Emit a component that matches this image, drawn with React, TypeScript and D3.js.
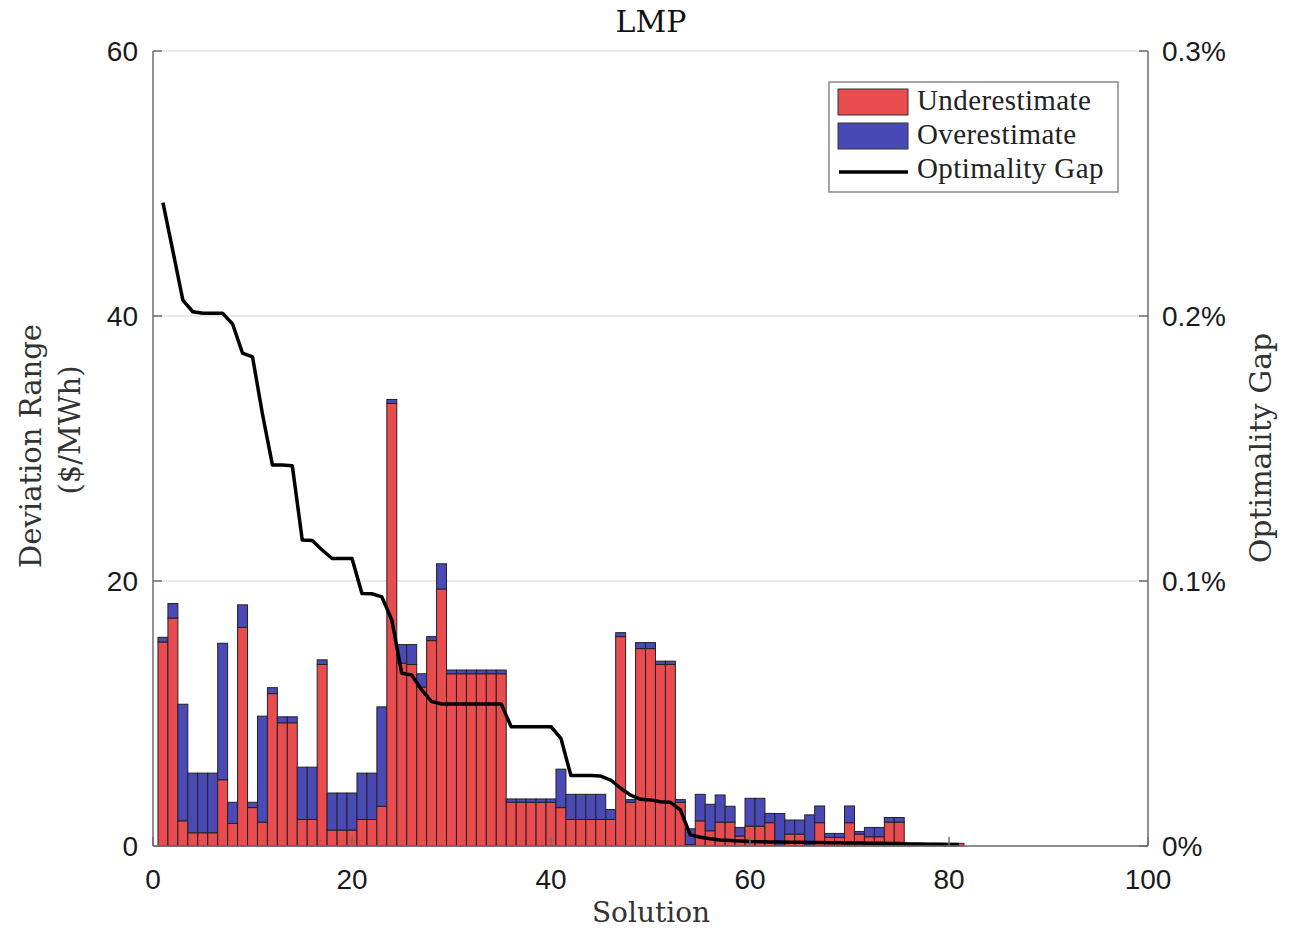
import React from "react";
import * as d3 from "d3";

// solution index 1..81
const solutions = d3.range(1, 82);

// red part (underestimate), $/MWh
const underestimate = [
  15.4, 17.2, 1.9, 1.0, 1.0, 1.0, 5.0, 1.7, 16.5, 2.9,
  1.8, 11.5, 9.3, 9.3, 2.0, 2.0, 13.7, 1.2, 1.2, 1.2,
  2.0, 2.0, 3.0, 33.4, 13.8, 13.7, 12.0, 15.5, 19.4, 13.0,
  13.0, 13.0, 13.0, 13.0, 13.0, 3.3, 3.3, 3.3, 3.3, 3.3,
  2.9, 2.0, 2.0, 2.0, 2.0, 2.0, 15.8, 3.3, 14.9, 14.9,
  13.7, 13.7, 3.3, 0.1, 1.9, 1.15, 1.8, 1.8, 0.75, 1.5,
  1.5, 1.76, 0.05, 0.9, 0.9, 0.05, 1.76, 0.65, 0.65, 1.76,
  0.9, 0.7, 0.7, 1.8, 1.8, 0.2, 0.2, 0.2, 0.2, 0.2,
  0.2,
];

// blue part stacked on top (overestimate), $/MWh
const overestimate = [
  0.35, 1.1, 8.8, 4.5, 4.5, 4.5, 10.3, 1.6, 1.7, 0.4,
  8.0, 0.45, 0.45, 0.45, 3.95, 3.95, 0.35, 2.8, 2.8, 2.8,
  3.5, 3.5, 7.5, 0.3, 1.4, 1.5, 1.0, 0.3, 1.9, 0.28,
  0.28, 0.28, 0.28, 0.28, 0.28, 0.25, 0.25, 0.25, 0.25, 0.25,
  2.9, 1.9, 1.9, 1.9, 1.9, 0.75, 0.3, 0.2, 0.45, 0.45,
  0.25, 0.25, 0.2, 1.2, 2.0, 2.0, 2.05, 1.2, 0.65, 2.1,
  2.1, 0.7, 2.4, 1.06, 1.06, 2.3, 1.26, 0.3, 0.3, 1.26,
  0.2, 0.7, 0.7, 0.35, 0.35, 0, 0, 0, 0, 0,
  0,
];

// optimality gap in %
const optimalityGap = [
  0.2428, 0.2245, 0.206, 0.2016, 0.201, 0.201, 0.201, 0.197, 0.186, 0.1846,
  0.163, 0.1438, 0.1438, 0.1435, 0.1155, 0.1153, 0.1117, 0.1085, 0.1085, 0.1085,
  0.0953, 0.0952, 0.094, 0.0853, 0.0652, 0.0645, 0.0589, 0.0545, 0.0536, 0.0536,
  0.0536, 0.0536, 0.0536, 0.0536, 0.0536, 0.045, 0.045, 0.045, 0.045, 0.045,
  0.0406, 0.0266, 0.0266, 0.0266, 0.0264, 0.0249, 0.0218, 0.0192, 0.0176, 0.0174,
  0.0167, 0.0165, 0.0136, 0.0042, 0.0033, 0.0027, 0.0023, 0.0021, 0.0019, 0.0017,
  0.0016, 0.0015, 0.0015, 0.0014, 0.0014, 0.0013, 0.0013, 0.0012, 0.0012, 0.0011,
  0.0011, 0.001, 0.001, 0.0009, 0.0009, 0.0008, 0.0008, 0.0007, 0.0007, 0.0006,
  0.0006,
];

const xTicks = [0, 20, 40, 60, 80, 100];
const yTicks = [0, 20, 40, 60];
const gapTicks = [0, 0.1, 0.2, 0.3];

const legendItems = ["Underestimate", "Overestimate", "Optimality Gap"];

const W = 1304;
const H = 934;
const M = { left: 153, right: 1148, top: 51, bottom: 846 };
const RED = "#e84c4f";
const BLUE = "#4a4ab6";
const AXIS = "#6e6e6e";
const SANS = "'Liberation Sans', Arial, sans-serif";
const SERIF = "'DejaVu Serif', serif";
const LSERIF = "'Liberation Serif', serif";

export default function App() {
  const x = d3.scaleLinear().domain([0, 100]).range([M.left, M.right]);
  const y = d3.scaleLinear().domain([0, 60]).range([M.bottom, M.top]);
  const yGap = d3.scaleLinear().domain([0, 0.3]).range([M.bottom, M.top]);

  const gapLine = d3
    .line<number>()
    .x((d, i) => x(solutions[i]))
    .y((d) => yGap(d));

  const tick = 9;

  return (
    <svg
      width={W}
      height={H}
      style={{ position: "absolute", left: 0, top: 0, background: "#fff" }}
    >
      {/* grid */}
      {yTicks.map((t) => (
        <line
          key={"g" + t}
          x1={M.left}
          x2={M.right}
          y1={y(t)}
          y2={y(t)}
          stroke="#e3e3e3"
          strokeWidth={1.5}
        />
      ))}

      {/* stacked bars */}
      {solutions.map((s, i) => {
        const x0 = x(s - 0.5);
        const bw = x(s + 0.5) - x0;
        const u = underestimate[i];
        const o = overestimate[i];
        return (
          <g key={"b" + s}>
            <rect
              x={x0}
              y={y(u)}
              width={bw}
              height={y(0) - y(u)}
              fill={RED}
              stroke="#222"
              strokeWidth={1}
            />
            {o > 0 && (
              <rect
                x={x0}
                y={y(u + o)}
                width={bw}
                height={y(u) - y(u + o)}
                fill={BLUE}
                stroke="#222"
                strokeWidth={1}
              />
            )}
          </g>
        );
      })}

      {/* optimality gap line */}
      <path
        d={gapLine(optimalityGap) || ""}
        fill="none"
        stroke="#000"
        strokeWidth={3.5}
        strokeLinejoin="round"
      />

      {/* axes */}
      <line x1={M.left} x2={M.left} y1={M.top} y2={M.bottom} stroke={AXIS} strokeWidth={1.5} />
      <line x1={M.right} x2={M.right} y1={M.top} y2={M.bottom} stroke={AXIS} strokeWidth={1.5} />
      <line x1={M.left} x2={M.right} y1={M.bottom} y2={M.bottom} stroke={AXIS} strokeWidth={1.5} />

      {xTicks.map((t) => (
        <g key={"xt" + t}>
          <line x1={x(t)} x2={x(t)} y1={M.bottom} y2={M.bottom - tick} stroke={AXIS} strokeWidth={1.5} />
          <text
            x={x(t)}
            y={889}
            textAnchor="middle"
            fontFamily={SANS}
            fontSize={28}
            fill="#1a1a1a"
          >
            {t}
          </text>
        </g>
      ))}

      {yTicks.map((t) => (
        <g key={"yt" + t}>
          <line x1={M.left} x2={M.left + tick} y1={y(t)} y2={y(t)} stroke={AXIS} strokeWidth={1.5} />
          <text
            x={138}
            y={y(t)}
            dy="0.36em"
            textAnchor="end"
            fontFamily={SANS}
            fontSize={28}
            fill="#1a1a1a"
          >
            {t}
          </text>
        </g>
      ))}

      {gapTicks.map((t) => (
        <g key={"gt" + t}>
          <line x1={M.right} x2={M.right - tick} y1={yGap(t)} y2={yGap(t)} stroke={AXIS} strokeWidth={1.5} />
          <text
            x={1162}
            y={yGap(t)}
            dy="0.36em"
            textAnchor="start"
            fontFamily={SANS}
            fontSize={28}
            fill="#1a1a1a"
          >
            {t === 0 ? "0%" : t.toFixed(1) + "%"}
          </text>
        </g>
      ))}

      {/* titles */}
      <text x={651} y={32} textAnchor="middle" fontFamily={SERIF} fontSize={30} fill="#111">
        LMP
      </text>
      <text x={651} y={922} textAnchor="middle" fontFamily={SERIF} fontSize={28} fill="#333">
        Solution
      </text>
      <text
        transform="translate(41,446) rotate(-90)"
        textAnchor="middle"
        fontFamily={SERIF}
        fontSize={29}
        fill="#333"
      >
        Deviation Range
      </text>
      <text
        transform="translate(80,430) rotate(-90)"
        textAnchor="middle"
        fontFamily={SERIF}
        fontSize={29}
        fill="#333"
      >
        ($/MWh)
      </text>
      <text
        transform="translate(1271,448) rotate(-90)"
        textAnchor="middle"
        fontFamily={SERIF}
        fontSize={30}
        fill="#333"
      >
        Optimality Gap
      </text>

      {/* legend */}
      <g>
        <rect x={829} y={82} width={289} height={110} fill="#fff" stroke="#888" strokeWidth={1.5} />
        <rect x={838} y={89} width={70} height={26} fill={RED} stroke="#333" strokeWidth={1} />
        <rect x={838} y={123} width={70} height={26} fill={BLUE} stroke="#333" strokeWidth={1} />
        <line x1={839} x2={908} y1={172} y2={172} stroke="#000" strokeWidth={3.5} />
        {legendItems.map((name, i) => (
          <text
            key={name}
            x={917}
            y={110 + i * 34}
            fontFamily={LSERIF}
            fontSize={29}
            fill="#222"
            letterSpacing={0.4}
          >
            {name}
          </text>
        ))}
      </g>
    </svg>
  );
}
